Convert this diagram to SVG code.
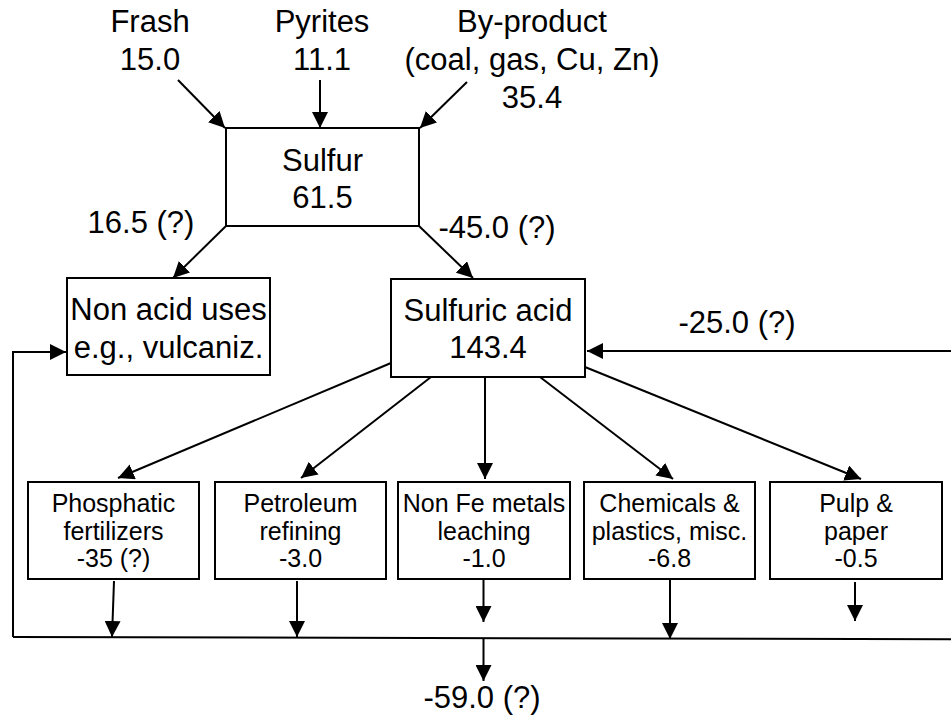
<svg xmlns="http://www.w3.org/2000/svg" width="951" height="718" viewBox="0 0 951 718">
<style>
.box{fill:#fff;stroke:#000;stroke-width:2}
.t{font-family:"Liberation Sans",Arial,sans-serif;font-size:31px;text-anchor:middle;fill:#000}
.s{font-family:"Liberation Sans",Arial,sans-serif;font-size:25px;text-anchor:middle;fill:#000}
.c{stroke:#000;stroke-width:2;fill:none}
.a{marker-end:url(#ah)}
</style>
<defs>
<marker id="ah" markerUnits="userSpaceOnUse" markerWidth="16" markerHeight="16" refX="15" refY="7.5" orient="auto" viewBox="0 0 15 15">
<path d="M0,0 L15,7.5 L0,15 z" fill="#000"/>
</marker>
</defs>
<rect width="951" height="718" fill="#fff"/>
<g id="labels">
<text class="t" x="150" y="32">Frash</text>
<text class="t" x="150" y="70">15.0</text>
<text class="t" x="322" y="32">Pyrites</text>
<text class="t" x="322" y="70">11.1</text>
<text class="t" x="532" y="32">By-product</text>
<text class="t" x="532" y="70">(coal, gas, Cu, Zn)</text>
<text class="t" x="532" y="108">35.4</text>
<text class="t" x="141" y="233">16.5 (?)</text>
<text class="t" x="497" y="238">-45.0 (?)</text>
<text class="t" x="737" y="333">-25.0 (?)</text>
<text class="t" x="482" y="708">-59.0 (?)</text>
</g>
<g id="sulfur">
<rect class="box" x="226" y="128" width="193" height="98"/>
<text class="t" x="322.5" y="171">Sulfur</text>
<text class="t" x="322.5" y="208">61.5</text>
</g>
<g id="nonacid">
<rect class="box" x="67" y="278" width="203" height="97"/>
<text class="t" x="168.5" y="320">Non acid uses</text>
<text class="t" x="168.5" y="358">e.g., vulcaniz.</text>
</g>
<g id="sulfuric">
<rect class="box" x="391" y="279" width="194" height="98"/>
<text class="t" x="488" y="321">Sulfuric acid</text>
<text class="t" x="488" y="358">143.4</text>
</g>
<g id="phosphatic">
<rect class="box" x="28" y="482" width="171" height="97"/>
<text class="s" x="113.5" y="512">Phosphatic</text>
<text class="s" x="113.5" y="540">fertilizers</text>
<text class="s" x="113.5" y="567">-35 (?)</text>
</g>
<g id="petroleum">
<rect class="box" x="215" y="482" width="171" height="97"/>
<text class="s" x="300.5" y="512">Petroleum</text>
<text class="s" x="300.5" y="540">refining</text>
<text class="s" x="300.5" y="567">-3.0</text>
</g>
<g id="nonfe">
<rect class="box" x="398" y="482" width="172" height="97"/>
<text class="s" x="484" y="512">Non Fe metals</text>
<text class="s" x="484" y="540">leaching</text>
<text class="s" x="484" y="567">-1.0</text>
</g>
<g id="chemicals">
<rect class="box" x="584" y="482" width="171" height="97"/>
<text class="s" x="669.5" y="512">Chemicals &amp;</text>
<text class="s" x="669.5" y="540">plastics, misc.</text>
<text class="s" x="669.5" y="567">-6.8</text>
</g>
<g id="pulp">
<rect class="box" x="770" y="482" width="172" height="97"/>
<text class="s" x="856" y="512">Pulp &amp;</text>
<text class="s" x="856" y="540">paper</text>
<text class="s" x="856" y="567">-0.5</text>
</g>
<g id="connectors">
<line class="c a" x1="178" y1="80" x2="225" y2="128"/>
<line class="c a" x1="320" y1="80" x2="320" y2="128"/>
<line class="c a" x1="467" y1="82" x2="420" y2="128"/>
<line class="c a" x1="226" y1="226" x2="173" y2="278"/>
<line class="c a" x1="419" y1="226" x2="473" y2="278"/>
<line class="c a" x1="951" y1="351" x2="587" y2="351"/>
<polyline class="c a" points="13,637 13,352 66,352"/>
<line class="c" x1="13" y1="637" x2="951" y2="639.3"/>
<line class="c a" x1="391" y1="363" x2="118" y2="478"/>
<line class="c a" x1="431" y1="377" x2="301" y2="478"/>
<line class="c a" x1="485" y1="377" x2="485" y2="479"/>
<line class="c a" x1="540" y1="377" x2="673" y2="479"/>
<line class="c a" x1="585" y1="367" x2="861" y2="479"/>
<line class="c a" x1="114" y1="581" x2="112" y2="637"/>
<line class="c a" x1="297" y1="581" x2="297" y2="637"/>
<line class="c a" x1="483.5" y1="580" x2="483.5" y2="622"/>
<line class="c a" x1="670" y1="580" x2="670" y2="639"/>
<line class="c a" x1="855" y1="582" x2="855" y2="621"/>
<line class="c a" x1="483.5" y1="639" x2="483.5" y2="681"/>
</g>
</svg>
